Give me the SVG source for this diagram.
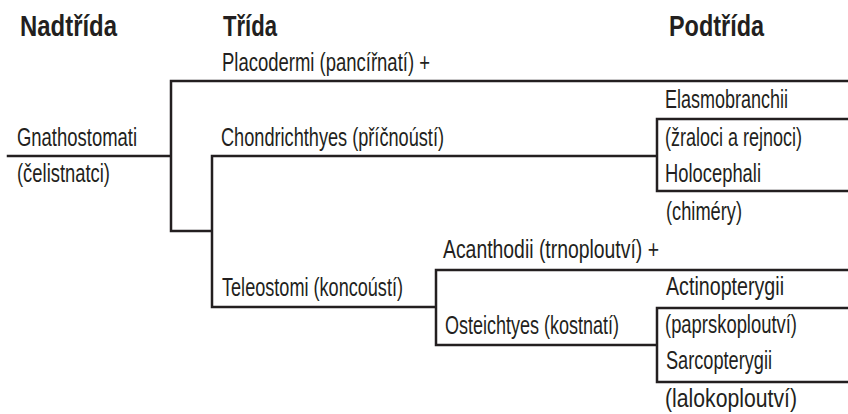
<svg xmlns="http://www.w3.org/2000/svg" width="848" height="414" viewBox="0 0 848 414">
<style>
.t{font-family:"Liberation Sans Narrow","Liberation Sans",Arial,sans-serif;font-size:25px;fill:#231f20}
.h{font-family:"Liberation Sans Narrow","Liberation Sans",Arial,sans-serif;font-size:30px;font-weight:bold;fill:#231f20}
.c{fill:none;stroke:#231f20;stroke-width:2.5;stroke-linecap:square;stroke-linejoin:miter}
</style>
<rect width="848" height="414" fill="#ffffff"/>
<g id="headings">
<text class="h" x="20" y="36" textLength="97" lengthAdjust="spacingAndGlyphs">Nadtřída</text>
<text class="h" x="223" y="36" textLength="54" lengthAdjust="spacingAndGlyphs">Třída</text>
<text class="h" x="669" y="36" textLength="95" lengthAdjust="spacingAndGlyphs">Podtřída</text>
</g>
<g id="connectors">
<path class="c" d="M8 156H171M171 81V231M171 81H848M171 231H212M212 156V307M212 156H657M657 119V191M657 119H848M657 191H848M212 307H436M436 270V345M436 270H848M436 345H657M657 308V382M657 308H848M657 382H848"/>
</g>
<g id="gnathostomati">
<text class="t" x="17" y="145.5" textLength="120" lengthAdjust="spacingAndGlyphs">Gnathostomati</text>
<text class="t" x="17" y="182" textLength="93" lengthAdjust="spacingAndGlyphs">(čelistnatci)</text>
</g>
<g id="placodermi">
<text class="t" x="222" y="70.5" textLength="208" lengthAdjust="spacingAndGlyphs">Placodermi (pancířnatí) +</text>
</g>
<g id="chondrichthyes">
<text class="t" x="221" y="145.5" textLength="223" lengthAdjust="spacingAndGlyphs">Chondrichthyes (příčnoústí)</text>
</g>
<g id="elasmobranchii">
<text class="t" x="665" y="108" textLength="123" lengthAdjust="spacingAndGlyphs">Elasmobranchii</text>
<text class="t" x="665" y="145.5" textLength="137" lengthAdjust="spacingAndGlyphs">(žraloci a rejnoci)</text>
</g>
<g id="holocephali">
<text class="t" x="665" y="182" textLength="96" lengthAdjust="spacingAndGlyphs">Holocephali</text>
<text class="t" x="666" y="219.5" textLength="76" lengthAdjust="spacingAndGlyphs">(chiméry)</text>
</g>
<g id="teleostomi">
<text class="t" x="222" y="296" textLength="181" lengthAdjust="spacingAndGlyphs">Teleostomi (koncoústí)</text>
</g>
<g id="acanthodii">
<text class="t" x="443" y="257.5" textLength="216" lengthAdjust="spacingAndGlyphs">Acanthodii (trnoploutví) +</text>
</g>
<g id="osteichtyes">
<text class="t" x="445" y="334" textLength="174" lengthAdjust="spacingAndGlyphs">Osteichtyes (kostnatí)</text>
</g>
<g id="actinopterygii">
<text class="t" x="666" y="295" textLength="118" lengthAdjust="spacingAndGlyphs">Actinopterygii</text>
<text class="t" x="665" y="333" textLength="132" lengthAdjust="spacingAndGlyphs">(paprskoploutví)</text>
</g>
<g id="sarcopterygii">
<text class="t" x="666" y="369" textLength="106" lengthAdjust="spacingAndGlyphs">Sarcopterygii</text>
<text class="t" x="665" y="407" textLength="132" lengthAdjust="spacingAndGlyphs">(lalokoploutví)</text>
</g>
</svg>
